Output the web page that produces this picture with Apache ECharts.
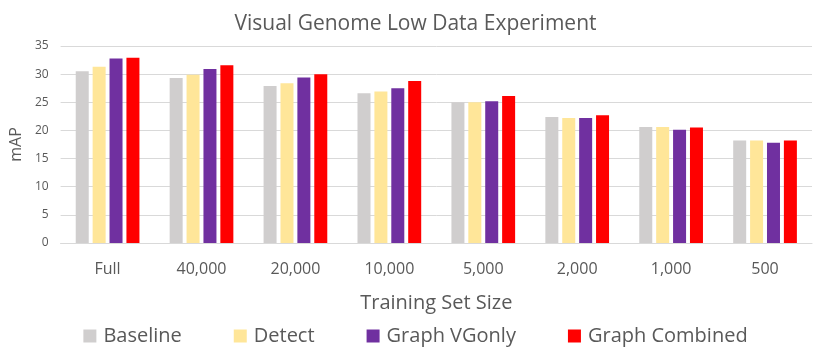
<!DOCTYPE html>
<html>
<head>
<meta charset="utf-8">
<script src="https://cdn.jsdelivr.net/npm/echarts@6/dist/echarts.min.js"></script>
<style>
  html, body { margin: 0; padding: 0; background: #fff; }
  #chart { width: 831px; height: 352px; }
</style>
</head>
<body>
<div id="chart"></div>
<script>
// data
var categories = ['Full', '40,000', '20,000', '10,000', '5,000', '2,000', '1,000', '500'];
var baseline = [30.5, 29.3, 27.9, 26.6, 25.0, 22.4, 20.6, 18.2];
var detect = [31.3, 29.9, 28.4, 26.9, 25.0, 22.2, 20.6, 18.2];
var graphVGonly = [32.8, 30.9, 29.4, 27.5, 25.2, 22.2, 20.1, 17.8];
var graphCombined = [32.9, 31.6, 30.0, 28.8, 26.1, 22.7, 20.5, 18.2];

var font = 'Open Sans, "Noto Sans", sans-serif';

function bar(name, data, color) {
  return {
    name: name,
    type: 'bar',
    data: data,
    barWidth: 13,
    barGap: '30%',
    itemStyle: { color: color }
  };
}

var myChart = echarts.init(document.getElementById('chart'));
myChart.setOption({
  animation: false,
  title: {
    text: 'Visual Genome Low Data Experiment',
    left: 'center',
    top: 9,
    textStyle: { fontFamily: font, fontSize: 21, fontWeight: 'normal', color: '#595959' }
  },
  legend: {
    bottom: 1,
    left: 'center',
    itemWidth: 13,
    itemHeight: 13,
    itemGap: 52,
    icon: 'rect',
    textStyle: { fontFamily: font, fontSize: 20, color: '#595959', padding: [0, 0, 0, 2] }
  },
  grid: { left: 58, right: 19, top: 46, bottom: 109 },
  xAxis: {
    type: 'category',
    data: categories,
    name: 'Training Set Size',
    nameLocation: 'middle',
    nameGap: 50,
    nameTextStyle: { fontFamily: font, fontSize: 20, color: '#595959' },
    axisLine: { lineStyle: { color: '#d9d9d9' } },
    axisTick: { show: false },
    axisLabel: { fontFamily: font, fontSize: 16, color: '#595959', margin: 18 }
  },
  yAxis: {
    type: 'value',
    min: 0,
    max: 35,
    interval: 5,
    name: 'mAP',
    nameLocation: 'middle',
    nameGap: 30,
    nameTextStyle: { fontFamily: font, fontSize: 16, color: '#595959' },
    axisLine: { show: false },
    axisTick: { show: false },
    splitLine: { lineStyle: { color: '#d9d9d9' } },
    axisLabel: { fontFamily: font, fontSize: 12, color: '#595959', margin: 12 }
  },
  series: [
    bar('Baseline', baseline, '#d0cece'),
    bar('Detect', detect, '#ffe699'),
    bar('Graph VGonly', graphVGonly, '#7030a0'),
    bar('Graph Combined', graphCombined, '#ff0000')
  ]
});
</script>
</body>
</html>
